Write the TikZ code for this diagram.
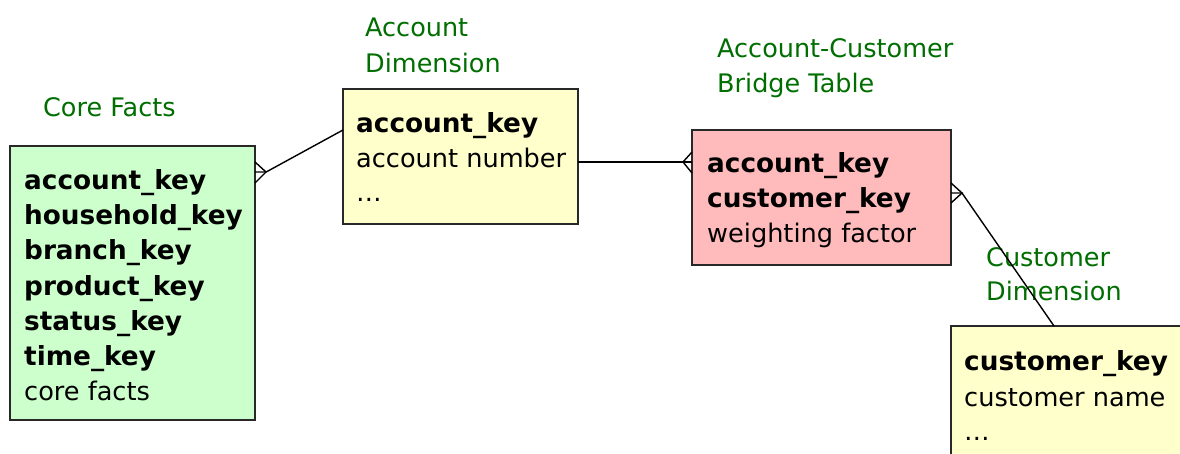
\documentclass[tikz,border=0pt]{standalone}
\usepackage{fontspec}
\setmainfont{DejaVu Sans}
\usetikzlibrary{calc}
\definecolor{lblgreen}{RGB}{0,110,0}
\definecolor{factfill}{RGB}{204,255,204}
\definecolor{dimfill}{RGB}{255,255,204}
\definecolor{bridgefill}{RGB}{255,187,187}
\definecolor{boxline}{RGB}{40,40,40}
\begin{document}
\begin{tikzpicture}[x=1pt,y=-1pt,
  tbox/.style={draw=boxline,line width=1.3pt,rectangle,anchor=north west,inner sep=0pt,outer sep=0pt},
  lbl/.style={anchor=base west,inner sep=0pt,text=lblgreen,font=\fontsize{25.5}{30}\selectfont},
  fld/.style={anchor=base west,inner sep=0pt,font=\fontsize{25.6}{35}\selectfont},
  kfld/.style={fld,font=\fontsize{26.3}{35}\selectfont\bfseries},
  conn/.style={draw=black,line width=1.4pt}]
\clip (0,0) rectangle (1180,454);
\useasboundingbox (0,0) rectangle (1180,454);
\fill[white] (0,0) rectangle (1180,454);
% boxes
\node[tbox,fill=factfill,minimum width=245pt,minimum height=274pt] (core) at (10,146) {};
\node[tbox,fill=dimfill,minimum width=235pt,minimum height=135pt] (acct) at (343,89) {};
\node[tbox,fill=bridgefill,minimum width=259pt,minimum height=135pt] (bridge) at (692,130) {};
\node[tbox,fill=dimfill,minimum width=240pt,minimum height=140pt] (cust) at (951,326) {};
% labels
\node[lbl] (lcore) at (43,117) {Core Facts};
\node[lbl] (lacct1) at (365,37) {Account};
\node[lbl] (lacct2) at (365,73) {Dimension};
\node[lbl] (lbr1) at (717,58) {Account-Customer};
\node[lbl] (lbr2) at (717,93) {Bridge Table};
\node[lbl] (lcu1) at (986,266) {Customer};
\node[lbl] (lcu2) at (986,300) {Dimension};
% core facts fields
\node[kfld] (c1) at (24,190) {account\_key};
\node[kfld] (c2) at (24,225) {household\_key};
\node[kfld] (c3) at (24,260) {branch\_key};
\node[kfld] (c4) at (24,295) {product\_key};
\node[kfld] (c5) at (24,330) {status\_key};
\node[kfld] (c6) at (24,365) {time\_key};
\node[fld] (c7) at (24,400) {core facts};
% account fields
\node[kfld] (a1) at (356,133) {account\_key};
\node[fld] (a2) at (356,168) {account number};
\node[fld] (a3) at (356,202) {\dots};
% bridge fields
\node[kfld] (b1) at (707,173) {account\_key};
\node[kfld] (b2) at (707,208) {customer\_key};
\node[fld] (b3) at (707,243) {weighting factor};
% customer fields
\node[kfld] (u1) at (964,370) {customer\_key};
\node[fld] (u2) at (964,406) {customer name};
\node[fld] (u3) at (964,440) {\dots};
% connector 1: core facts -> account
\coordinate (k1) at ($(core.north east)+(0,26)$);
\coordinate (k1t) at ($(k1)+(11,0)$);
\coordinate (a1w) at ($(acct.north west)+(0,41)$);
\draw[conn] ($(k1)+(0,-10)$) -- (k1t) -- ($(k1)+(0,11)$);
\draw[conn] (k1) -- (k1t) -- ($(k1t)+(2,-1)$) -- (a1w);
% connector 2: account -> bridge
\coordinate (a2e) at ($(acct.north east)+(0,73)$);
\coordinate (b2w) at ($(bridge.north west)+(0,32)$);
\coordinate (b2t) at ($(b2w)+(-9,0)$);
\draw[conn] (a2e) -- (b2w);
\draw[conn] ($(b2w)+(0,-10)$) -- (b2t) -- ($(b2w)+(0,11)$);
% connector 3: bridge -> customer
\coordinate (b3e) at ($(bridge.north east)+(0,63)$);
\coordinate (b3t) at ($(b3e)+(11,0)$);
\coordinate (u1n) at ($(cust.north west)+(103,0)$);
\draw[conn] ($(b3e)+(0,-10)$) -- (b3t) -- ($(b3e)+(0,10)$);
\draw[conn] (b3e) -- (b3t) -- (u1n);
\end{tikzpicture}
\end{document}
